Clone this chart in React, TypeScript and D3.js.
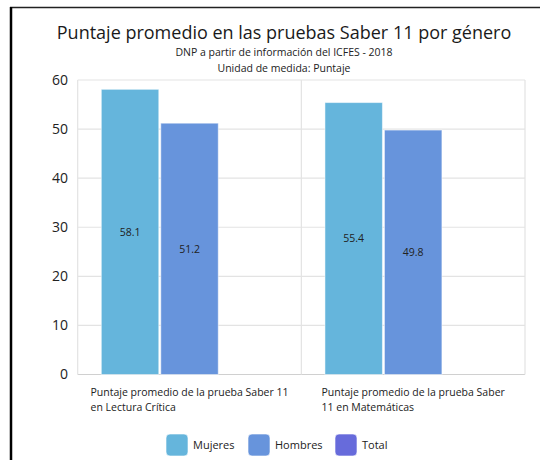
import React, { useEffect, useRef } from "react";
import * as d3 from "d3";

const categories = [
  "Puntaje promedio de la prueba Saber 11 en Lectura Crítica",
  "Puntaje promedio de la prueba Saber 11 en Matemáticas",
];
const categoryLines = [
  ["Puntaje promedio de la prueba Saber 11", "en Lectura Crítica"],
  ["Puntaje promedio de la prueba Saber", "11 en Matemáticas"],
];
const seriesNames = ["Mujeres", "Hombres", "Total"];
const mujeres = [58.1, 55.4];
const hombres = [51.2, 49.8];
const total: (number | null)[] = [null, null];
const yTicks = [0, 10, 20, 30, 40, 50, 60];
const colors = ["#65b5dc", "#6794dc", "#676bdb"];
const title = "Puntaje promedio en las pruebas Saber 11 por género";
const subtitle1 = "DNP a partir de información del ICFES - 2018";
const subtitle2 = "Unidad de medida: Puntaje";

const W = 540;
const H = 460;
const FONT = "'Open Sans', 'Noto Sans', sans-serif";

export default function App() {
  const ref = useRef<SVGSVGElement>(null);

  useEffect(() => {
    const svg = d3.select(ref.current);
    svg.selectAll("*").remove();

    const left = 77.7, right = 525, top = 80, bottom = 374.5;
    const cx = 284;

    svg.append("rect").attr("width", W).attr("height", H).attr("fill", "#fff");

    // frame
    svg.append("line").attr("x1", 10).attr("x2", W).attr("y1", 7.5).attr("y2", 7.5)
      .attr("stroke", "#222").attr("stroke-width", 1.5);
    svg.append("line").attr("x1", 11).attr("x2", 11).attr("y1", 7).attr("y2", H)
      .attr("stroke", "#000").attr("stroke-width", 2.5);

    // titles
    svg.append("text").attr("x", cx).attr("y", 39).attr("text-anchor", "middle")
      .attr("font-family", FONT).attr("font-size", 18).attr("fill", "#1a1a1a").text(title);
    svg.append("text").attr("x", cx).attr("y", 56).attr("text-anchor", "middle")
      .attr("font-family", FONT).attr("font-size", 10.5).attr("fill", "#222").text(subtitle1);
    svg.append("text").attr("x", cx).attr("y", 72).attr("text-anchor", "middle")
      .attr("font-family", FONT).attr("font-size", 10.5).attr("fill", "#222").text(subtitle2);

    const y = d3.scaleLinear().domain([0, 60]).range([bottom, top]);
    const x0 = d3.scaleBand<string>().domain(categories).range([left, right]).padding(0);
    const x1 = d3.scaleBand<string>().domain(seriesNames).range([0, x0.bandwidth()])
      .paddingInner(0.034).paddingOuter(0.397);

    // grid
    const g = svg.append("g");
    g.selectAll("line.h").data(yTicks).enter().append("line")
      .attr("x1", left).attr("x2", right)
      .attr("y1", (d) => y(d)).attr("y2", (d) => y(d))
      .attr("stroke", (d) => (d === 0 ? "#d0d0d0" : "#e3e3e3")).attr("stroke-width", 1.2);
    const vlines = [left, ...categories.map((c) => (x0(c) as number) + x0.bandwidth())];
    g.selectAll("line.v").data(vlines).enter().append("line")
      .attr("x1", (d) => d).attr("x2", (d) => d)
      .attr("y1", top).attr("y2", bottom)
      .attr("stroke", "#e3e3e3").attr("stroke-width", 1.2);

    // y labels
    g.selectAll("text.yt").data(yTicks).enter().append("text")
      .attr("x", 68).attr("y", (d) => y(d)).attr("dy", "0.35em")
      .attr("text-anchor", "end").attr("font-family", FONT).attr("font-size", 14)
      .attr("fill", "#222").text((d) => d);

    // bars
    const seriesVals = [mujeres, hombres, total];
    const bars: { cat: string; s: string; v: number; i: number }[] = [];
    categories.forEach((c, ci) => {
      seriesNames.forEach((s, si) => {
        const v = seriesVals[si][ci];
        if (v != null) bars.push({ cat: c, s, v, i: si });
      });
    });
    g.selectAll("rect.bar").data(bars).enter().append("rect")
      .attr("x", (d) => (x0(d.cat) as number) + (x1(d.s) as number))
      .attr("y", (d) => y(d.v))
      .attr("width", x1.bandwidth())
      .attr("height", (d) => y(0) - y(d.v))
      .attr("fill", (d) => colors[d.i])
      .attr("stroke", "rgba(255,255,255,0.5)").attr("stroke-width", 1);
    g.selectAll("text.lbl").data(bars).enter().append("text")
      .attr("x", (d) => (x0(d.cat) as number) + (x1(d.s) as number) + x1.bandwidth() / 2)
      .attr("y", (d) => (y(d.v) + y(0)) / 2).attr("dy", "0.35em")
      .attr("text-anchor", "middle").attr("font-family", FONT).attr("font-size", 10.5)
      .attr("fill", "#222").text((d) => d.v.toFixed(1));

    // x labels
    categories.forEach((c, ci) => {
      const center = (x0(c) as number) + x0.bandwidth() / 2;
      const t = g.append("text").attr("font-family", FONT).attr("font-size", 10.5).attr("fill", "#222");
      const spans = categoryLines[ci].map((ln, li) =>
        t.append("tspan").attr("y", 396 + li * 15).text(ln)
      );
      const widths = spans.map((sp) => (sp.node() as SVGTSpanElement).getComputedTextLength());
      const bw = Math.max(...widths);
      spans.forEach((sp) => sp.attr("x", center - bw / 2));
    });

    // legend
    const legX = [166, 248, 335];
    const lg = svg.append("g");
    seriesNames.forEach((s, i) => {
      lg.append("rect").attr("x", legX[i]).attr("y", 434).attr("width", 22).attr("height", 22)
        .attr("rx", 4).attr("fill", colors[i]).attr("stroke", "rgba(255,255,255,0.6)");
      lg.append("text").attr("x", legX[i] + 27).attr("y", 449).attr("font-family", FONT)
        .attr("font-size", 11).attr("fill", "#222").text(s);
    });
  }, []);

  return (
    <div style={{ position: "fixed", left: 0, top: 0 }}>
      <svg ref={ref} width={W} height={H} style={{ display: "block" }} />
    </div>
  );
}
